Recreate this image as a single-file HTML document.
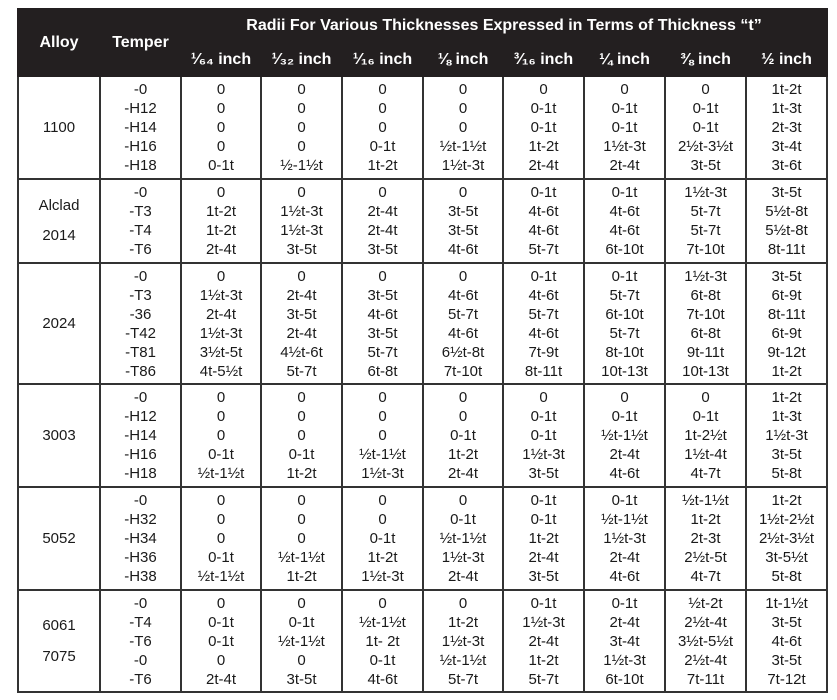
<!DOCTYPE html>
<html><head><meta charset="utf-8"><style>
body{margin:0;background:#fff;width:837px;height:700px;overflow:hidden}
table{position:absolute;left:17px;top:8px;border-collapse:collapse;table-layout:fixed;font-family:"Liberation Sans","DejaVu Sans",sans-serif;color:#1a1a1a;font-size:15px}
td,th{padding:0;text-align:center;vertical-align:middle;line-height:19px}
th{background:#231f20;color:#fff;font-weight:bold;font-size:16px;border:2px solid #231f20}
th.s{border-left:2px solid #fff}
th.sub{border-top:2px solid #fff;border-left:2px solid #fff;font-size:16px}
td{border:2px solid #333}
</style></head><body>
<table>
<colgroup><col style="width:82px"><col style="width:81px"><col style="width:80px"><col style="width:81px"><col style="width:81px"><col style="width:80px"><col style="width:81px"><col style="width:81px"><col style="width:81px"><col style="width:81px"></colgroup>
<tr style="height:33px"><th rowspan="2">Alloy</th><th rowspan="2" class="s">Temper</th><th colspan="8" class="s">Radii For Various Thicknesses Expressed in Terms of Thickness “t”</th></tr>
<tr style="height:34px"><th class="sub">¹⁄₆₄ inch</th><th class="sub">¹⁄₃₂ inch</th><th class="sub">¹⁄₁₆ inch</th><th class="sub">⅛ inch</th><th class="sub">³⁄₁₆ inch</th><th class="sub">¼ inch</th><th class="sub">⅜ inch</th><th class="sub">½ inch</th></tr>
<tr style="height:103px"><td>1100</td><td>-0<br>-H12<br>-H14<br>-H16<br>-H18</td><td>0<br>0<br>0<br>0<br>0-1t</td><td>0<br>0<br>0<br>0<br>½-1½t</td><td>0<br>0<br>0<br>0-1t<br>1t-2t</td><td>0<br>0<br>0<br>½t-1½t<br>1½t-3t</td><td>0<br>0-1t<br>0-1t<br>1t-2t<br>2t-4t</td><td>0<br>0-1t<br>0-1t<br>1½t-3t<br>2t-4t</td><td>0<br>0-1t<br>0-1t<br>2½t-3½t<br>3t-5t</td><td>1t-2t<br>1t-3t<br>2t-3t<br>3t-4t<br>3t-6t</td></tr>
<tr style="height:84px"><td><div style="line-height:30px">Alclad<br>2014</div></td><td>-0<br>-T3<br>-T4<br>-T6</td><td>0<br>1t-2t<br>1t-2t<br>2t-4t</td><td>0<br>1½t-3t<br>1½t-3t<br>3t-5t</td><td>0<br>2t-4t<br>2t-4t<br>3t-5t</td><td>0<br>3t-5t<br>3t-5t<br>4t-6t</td><td>0-1t<br>4t-6t<br>4t-6t<br>5t-7t</td><td>0-1t<br>4t-6t<br>4t-6t<br>6t-10t</td><td>1½t-3t<br>5t-7t<br>5t-7t<br>7t-10t</td><td>3t-5t<br>5½t-8t<br>5½t-8t<br>8t-11t</td></tr>
<tr style="height:121px"><td>2024</td><td>-0<br>-T3<br>-36<br>-T42<br>-T81<br>-T86</td><td>0<br>1½t-3t<br>2t-4t<br>1½t-3t<br>3½t-5t<br>4t-5½t</td><td>0<br>2t-4t<br>3t-5t<br>2t-4t<br>4½t-6t<br>5t-7t</td><td>0<br>3t-5t<br>4t-6t<br>3t-5t<br>5t-7t<br>6t-8t</td><td>0<br>4t-6t<br>5t-7t<br>4t-6t<br>6½t-8t<br>7t-10t</td><td>0-1t<br>4t-6t<br>5t-7t<br>4t-6t<br>7t-9t<br>8t-11t</td><td>0-1t<br>5t-7t<br>6t-10t<br>5t-7t<br>8t-10t<br>10t-13t</td><td>1½t-3t<br>6t-8t<br>7t-10t<br>6t-8t<br>9t-11t<br>10t-13t</td><td>3t-5t<br>6t-9t<br>8t-11t<br>6t-9t<br>9t-12t<br>1t-2t</td></tr>
<tr style="height:103px"><td>3003</td><td>-0<br>-H12<br>-H14<br>-H16<br>-H18</td><td>0<br>0<br>0<br>0-1t<br>½t-1½t</td><td>0<br>0<br>0<br>0-1t<br>1t-2t</td><td>0<br>0<br>0<br>½t-1½t<br>1½t-3t</td><td>0<br>0<br>0-1t<br>1t-2t<br>2t-4t</td><td>0<br>0-1t<br>0-1t<br>1½t-3t<br>3t-5t</td><td>0<br>0-1t<br>½t-1½t<br>2t-4t<br>4t-6t</td><td>0<br>0-1t<br>1t-2½t<br>1½t-4t<br>4t-7t</td><td>1t-2t<br>1t-3t<br>1½t-3t<br>3t-5t<br>5t-8t</td></tr>
<tr style="height:103px"><td>5052</td><td>-0<br>-H32<br>-H34<br>-H36<br>-H38</td><td>0<br>0<br>0<br>0-1t<br>½t-1½t</td><td>0<br>0<br>0<br>½t-1½t<br>1t-2t</td><td>0<br>0<br>0-1t<br>1t-2t<br>1½t-3t</td><td>0<br>0-1t<br>½t-1½t<br>1½t-3t<br>2t-4t</td><td>0-1t<br>0-1t<br>1t-2t<br>2t-4t<br>3t-5t</td><td>0-1t<br>½t-1½t<br>1½t-3t<br>2t-4t<br>4t-6t</td><td>½t-1½t<br>1t-2t<br>2t-3t<br>2½t-5t<br>4t-7t</td><td>1t-2t<br>1½t-2½t<br>2½t-3½t<br>3t-5½t<br>5t-8t</td></tr>
<tr style="height:102px"><td><div style="line-height:31px">6061<br>7075</div></td><td>-0<br>-T4<br>-T6<br>-0<br>-T6</td><td>0<br>0-1t<br>0-1t<br>0<br>2t-4t</td><td>0<br>0-1t<br>½t-1½t<br>0<br>3t-5t</td><td>0<br>½t-1½t<br>1t- 2t<br>0-1t<br>4t-6t</td><td>0<br>1t-2t<br>1½t-3t<br>½t-1½t<br>5t-7t</td><td>0-1t<br>1½t-3t<br>2t-4t<br>1t-2t<br>5t-7t</td><td>0-1t<br>2t-4t<br>3t-4t<br>1½t-3t<br>6t-10t</td><td>½t-2t<br>2½t-4t<br>3½t-5½t<br>2½t-4t<br>7t-11t</td><td>1t-1½t<br>3t-5t<br>4t-6t<br>3t-5t<br>7t-12t</td></tr>
</table>
</body></html>
